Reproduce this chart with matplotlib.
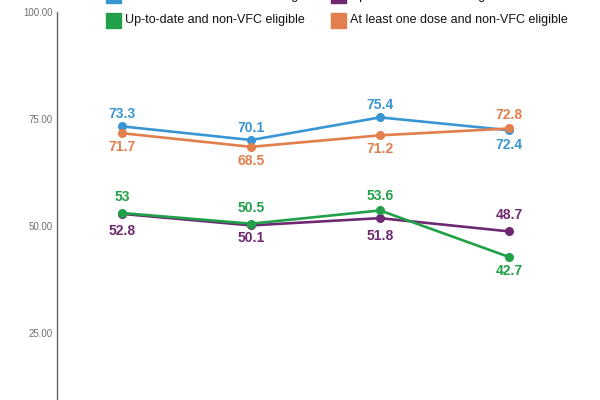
import numpy as np
import matplotlib
matplotlib.use('Agg')
import matplotlib.pyplot as plt
from matplotlib.patches import Rectangle

plt.rcParams['font.family'] = ['Liberation Sans', 'DejaVu Sans']

########## data ##########

periods = [0, 1, 2, 3]
names = ['At least one dose and VFC eligible',
         'Up-to-date and VFC eligible',
         'Up-to-date and non-VFC eligible',
         'At least one dose and non-VFC eligible']
colors = ['#3996d3', '#6d2a72', '#21a049', '#e27f4d']
dose_vfc = [73.3, 70.1, 75.4, 72.4]
utd_vfc = [52.8, 50.1, 51.8, 48.7]
utd_nonvfc = [53, 50.5, 53.6, 42.7]
dose_nonvfc = [71.7, 68.5, 71.2, 72.8]
series = [dose_vfc, utd_vfc, utd_nonvfc, dose_nonvfc]
# vertical label offset in pixels (+ above, - below)
label_off = [[12, 12.5, 12, -14.5],
             [-17.5, -13, -18, 16],
             [16.5, 16, 14, -14.5],
             [-13.5, -14, -14, 13.5]]
yticks = [25, 50, 75, 100]

########## figure ##########

fig = plt.figure(figsize=(6, 4), dpi=100)
ax = fig.add_axes([57/600, 0, 1 - 57/600, 1])
ax.set_xlim(-0.504, 3.705)
ax.set_ylim(9.2, 102.9)

for vals, c, offs in zip(series, colors, label_off):
	ax.plot(periods, vals, color=c, lw=1.9, marker='o', ms=5.5, zorder=3)
	for x, v, o in zip(periods, vals, offs):
		ax.annotate(f'{v:g}', (x, v), xytext=(0, o), textcoords='offset pixels',
			ha='center', va='center', color=c, fontsize=10, fontweight='bold')

for side in ['top', 'right', 'bottom']:
	ax.spines[side].set_visible(False)
ax.spines['left'].set_color('#666666')
ax.spines['left'].set_linewidth(1.0)
ax.spines['left'].set_bounds(0, 100)
ax.set_yticks(yticks)
ax.set_yticklabels([f'{t:.2f}' for t in yticks])
ax.tick_params(axis='y', length=0, pad=3, labelsize=7, labelcolor='#707070')
ax.set_xticks([])

########## legend (top row cut off) ##########

leg_x = [106, 331, 106, 331]
leg_y = [-4.5, -4.5, 20.5, 20.5]
for name, c, lx, ly in zip(names, colors, leg_x, leg_y):
	fig.patches.append(Rectangle((lx / 600, 1 - (ly + 7.5) / 400), 15 / 600, 15 / 400,
		transform=fig.transFigure, color=c, figure=fig))
	fig.text((lx + 19) / 600, 1 - ly / 400, name, fontsize=9, va='center', ha='left',
		color='#111111')

plt.savefig('out.png')
